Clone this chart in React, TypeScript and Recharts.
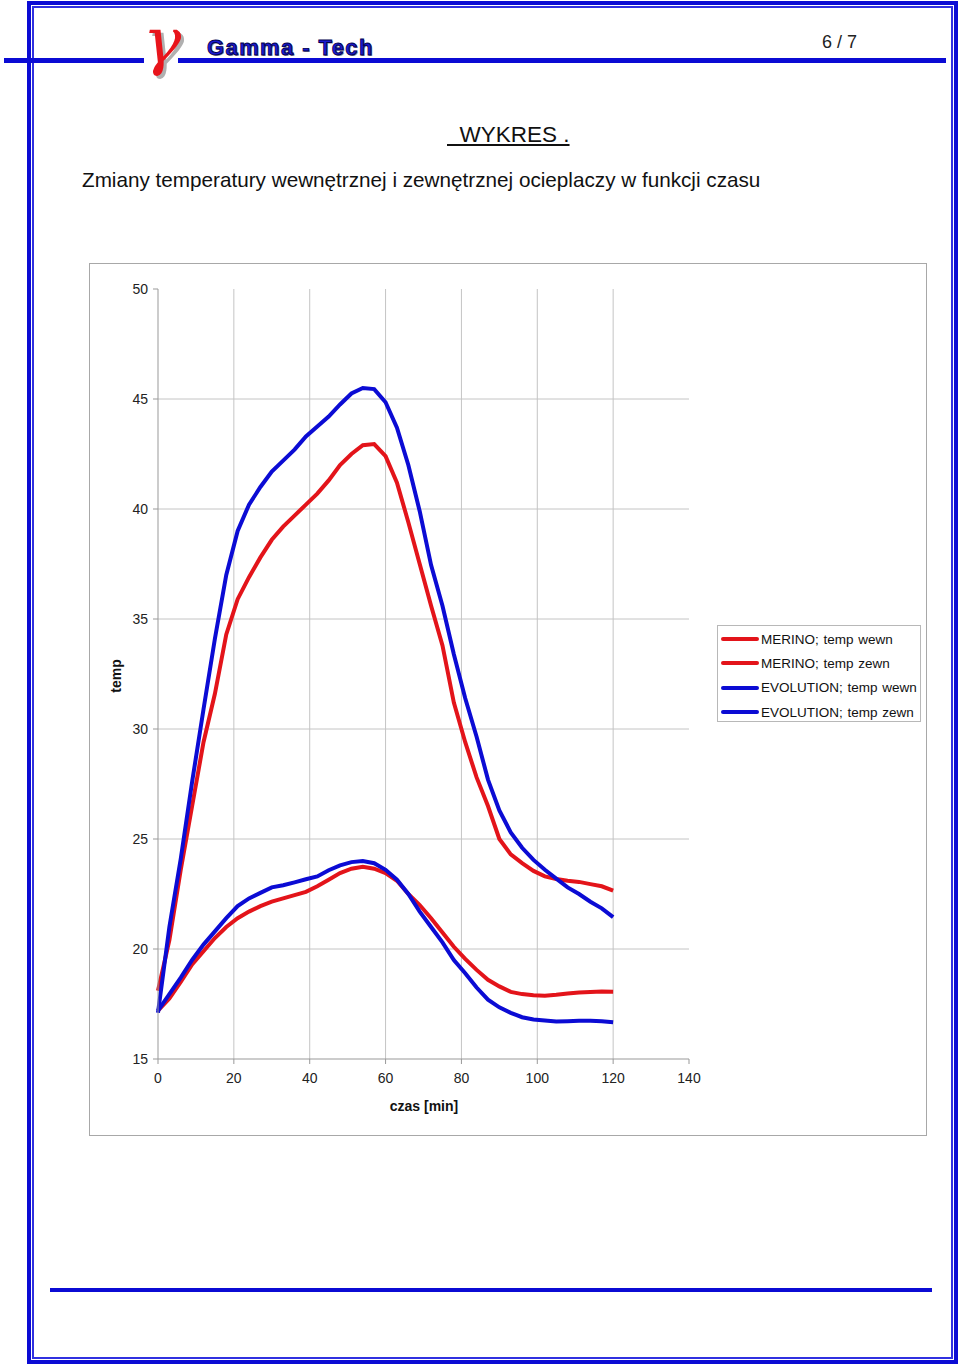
import React from 'react';
import {
    LineChart,
    Line,
    XAxis,
    YAxis,
    CartesianGrid,
    Legend,
} from 'recharts';

// time [min]
const times = [
    0, 3, 6, 9, 12, 15, 18, 21, 24, 27, 30, 33, 36, 39, 42, 45, 48, 51, 54, 57, 60,
    63, 66, 69, 72, 75, 78, 81, 84, 87, 90, 93, 96, 99, 102, 105, 108, 111, 114, 117, 120,
];

const merinoWewn = [
    18.1, 20.4, 23.6, 26.5, 29.4, 31.6, 34.3, 35.9, 36.9, 37.8, 38.6, 39.2, 39.7, 40.2, 40.7, 41.3, 42.0, 42.5, 42.9, 42.95, 42.4,
    41.2, 39.4, 37.5, 35.6, 33.8, 31.2, 29.4, 27.8, 26.5, 25.0, 24.3, 23.9, 23.55, 23.3, 23.18, 23.1, 23.05, 22.95, 22.85, 22.65,
];

const merinoZewn = [
    17.2, 17.75, 18.5, 19.3, 19.9, 20.5, 21.0, 21.4, 21.7, 21.95, 22.15, 22.3, 22.45, 22.6, 22.85, 23.15, 23.45, 23.65, 23.74, 23.65, 23.45,
    23.1, 22.5, 22.0, 21.4, 20.75, 20.1, 19.55, 19.05, 18.6, 18.3, 18.05, 17.95, 17.9, 17.88, 17.92, 17.98, 18.02, 18.05, 18.07, 18.06,
];

const evolutionWewn = [
    17.1, 21.0, 24.1, 27.6, 30.9, 34.1, 37.0, 39.0, 40.2, 41.0, 41.7, 42.2, 42.7, 43.3, 43.75, 44.2, 44.75, 45.25, 45.5, 45.45, 44.85,
    43.7, 42.0, 39.9, 37.45, 35.6, 33.4, 31.4, 29.65, 27.7, 26.3, 25.3, 24.6, 24.05, 23.6, 23.2, 22.8, 22.5, 22.15, 21.85, 21.45,
];

const evolutionZewn = [
    17.2, 17.95, 18.7, 19.5, 20.2, 20.8, 21.4, 21.95, 22.3, 22.55, 22.8, 22.9, 23.03, 23.17, 23.3, 23.58, 23.8, 23.95, 24.0, 23.9, 23.6,
    23.15, 22.5, 21.7, 21.0, 20.3, 19.5, 18.9, 18.25, 17.7, 17.35, 17.1, 16.9, 16.8, 16.75, 16.7, 16.72, 16.74, 16.74, 16.72, 16.67,
];

const xTicks = [0, 20, 40, 60, 80, 100, 120, 140];
const yTicks = [15, 20, 25, 30, 35, 40, 45, 50];

const seriesNames = [
    'MERINO; temp wewn',
    'MERINO; temp zewn',
    'EVOLUTION; temp wewn',
    'EVOLUTION; temp zewn',
];

const RED = '#e3141a';
const BLUE = '#0b0bd4';
const FONT = '"Liberation Sans", Arial, sans-serif';

const data = times.map((t, i) => ({
    t,
    mw: merinoWewn[i],
    mz: merinoZewn[i],
    ew: evolutionWewn[i],
    ez: evolutionZewn[i],
}));

const legendColors = [RED, RED, BLUE, BLUE];

const renderLegend = () => (
    <div
        style={{
            width: 204,
            height: 97,
            boxSizing: 'border-box',
            border: '1px solid #b8b8b8',
            background: '#fff',
            paddingTop: 1,
        }}
    >
        {seriesNames.map((name, i) => (
            <div
                key={name}
                style={{
                    display: 'flex',
                    alignItems: 'center',
                    height: 24.3,
                    fontFamily: FONT,
                    fontSize: 13.5,
                    color: '#111',
                    wordSpacing: 1,
                    whiteSpace: 'nowrap',
                }}
            >
                <span
                    style={{
                        display: 'inline-block',
                        width: 38,
                        height: 4,
                        borderRadius: 2,
                        background: legendColors[i],
                        marginLeft: 3,
                        marginRight: 2,
                    }}
                />
                {name}
            </div>
        ))}
    </div>
);

const abs = (left: number, top: number): React.CSSProperties => ({
    position: 'absolute',
    left,
    top,
    whiteSpace: 'pre',
});

export default function App() {
    return (
        <div
            style={{
                position: 'absolute',
                left: 0,
                top: 0,
                width: 960,
                height: 1369,
                background: '#fff',
                fontFamily: FONT,
                overflow: 'hidden',
            }}
        >
            {/* page frame */}
            <div style={{ position: 'absolute', left: 27, top: 1, width: 931, height: 1363, boxSizing: 'border-box', border: `4px solid ${BLUE}` }} />
            <div style={{ position: 'absolute', left: 32, top: 6, width: 921, height: 1353, boxSizing: 'border-box', border: `2px solid #3030e0` }} />

            {/* header */}
            <div style={{ position: 'absolute', left: 4, top: 58, width: 140, height: 5, background: BLUE }} />
            <div style={{ position: 'absolute', left: 178, top: 58, width: 768, height: 5, background: BLUE }} />
            <div
                style={{
                    ...abs(143, 6),
                    fontFamily: '"DejaVu Serif", serif',
                    fontStyle: 'italic',
                    fontSize: 64,
                    lineHeight: '70px',
                    color: '#e8141b',
                    textShadow: '3px 3px 0 #b0b0b0',
                }}
            >
                γ
            </div>
            <div
                style={{
                    ...abs(207, 35),
                    fontSize: 22,
                    fontWeight: 900,
                    lineHeight: '26px',
                    color: '#1a1ad0',
                    letterSpacing: 1.4,
                    WebkitTextStroke: '0.9px #000050',
                    textShadow: '1px 1px 0 #9090a0',
                }}
            >
                Gamma - Tech
            </div>
            <div style={{ ...abs(822, 31), fontSize: 18, lineHeight: '22px', color: '#222' }}>6 / 7</div>

            <div style={{ ...abs(447, 121), fontSize: 22.5, lineHeight: '28px', color: '#111' }}>
                <span style={{ textDecoration: 'underline' }}>{'\u00a0\u00a0WYKRES\u00a0.'}</span>
            </div>
            <div style={{ ...abs(82, 167), fontSize: 20.7, lineHeight: '26px', color: '#111' }}>
                Zmiany temperatury wewnętrznej i zewnętrznej ocieplaczy w funkcji czasu
            </div>

            {/* chart box */}
            <div style={{ position: 'absolute', left: 89, top: 263, width: 838, height: 873, boxSizing: 'border-box', border: '1px solid #a8a8a8' }} />
            <div style={{ position: 'absolute', left: 89, top: 263 }}>
                <LineChart
                    width={838}
                    height={873}
                    data={data}
                    margin={{ top: 26, right: 238, bottom: 47, left: 9 }}
                >
                    <CartesianGrid
                        stroke="#c4c4c4"
                        strokeWidth={1}
                        horizontalValues={[20, 25, 30, 35, 40, 45]}
                        verticalValues={[20, 40, 60, 80, 100, 120]}
                    />
                    <XAxis
                        dataKey="t"
                        type="number"
                        domain={[0, 140]}
                        ticks={xTicks}
                        interval={0}
                        height={30}
                        stroke="#999"
                        tickSize={5}
                        tickMargin={9}
                        tick={{ fontSize: 14, fill: '#222', fontFamily: FONT }}
                    />
                    <YAxis
                        type="number"
                        domain={[15, 50]}
                        ticks={yTicks}
                        interval={0}
                        width={60}
                        stroke="#999"
                        tickSize={5}
                        tickMargin={5}
                        tick={{ fontSize: 14, fill: '#222', fontFamily: FONT }}
                    />
                    <Legend
                        content={renderLegend}
                        layout="vertical"
                        align="center"
                        verticalAlign="middle"
                        wrapperStyle={{ position: 'absolute', left: 628, top: 362, width: 204, height: 97 }}
                    />
                    <Line type="linear" dataKey="mw" name={seriesNames[0]} stroke={RED} strokeWidth={4} dot={false} isAnimationActive={false} />
                    <Line type="linear" dataKey="mz" name={seriesNames[1]} stroke={RED} strokeWidth={4} dot={false} isAnimationActive={false} />
                    <Line type="linear" dataKey="ew" name={seriesNames[2]} stroke={BLUE} strokeWidth={4} dot={false} isAnimationActive={false} />
                    <Line type="linear" dataKey="ez" name={seriesNames[3]} stroke={BLUE} strokeWidth={4} dot={false} isAnimationActive={false} />
                </LineChart>
            </div>
            <div
                style={{
                    ...abs(116, 676),
                    transform: 'translate(-50%, -50%) rotate(-90deg)',
                    fontSize: 14,
                    fontWeight: 700,
                    color: '#111',
                }}
            >
                temp
            </div>
            <div style={{ ...abs(424, 1106), transform: 'translate(-50%, -50%)', fontSize: 14, fontWeight: 700, color: '#111' }}>
                czas [min]
            </div>

            {/* footer line */}
            <div style={{ position: 'absolute', left: 50, top: 1288, width: 882, height: 4, background: BLUE }} />
        </div>
    );
}
